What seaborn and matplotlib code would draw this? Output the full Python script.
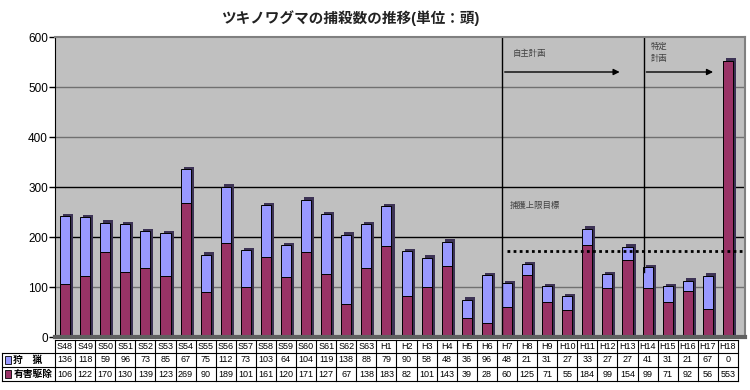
import matplotlib
matplotlib.use('Agg')
import matplotlib.pyplot as plt
import matplotlib.patheffects as pe
from matplotlib.patches import Rectangle
import seaborn as sns

# data
years = ['S48', 'S49', 'S50', 'S51', 'S52', 'S53', 'S54', 'S55', 'S56', 'S57', 'S58', 'S59',
         'S60', 'S61', 'S62', 'S63', 'H1', 'H2', 'H3', 'H4', 'H5', 'H6', 'H7', 'H8', 'H9',
         'H10', 'H11', 'H12', 'H13', 'H14', 'H15', 'H16', 'H17', 'H18']
hunting = [136, 118, 59, 96, 73, 85, 67, 75, 112, 73, 103, 64, 104, 119, 138, 88,
           79, 90, 58, 48, 36, 96, 48, 21, 31, 27, 33, 27, 27, 41, 31, 21, 67, 0]
pest = [106, 122, 170, 130, 139, 123, 269, 90, 189, 101, 161, 120, 171, 127, 67, 138,
        183, 82, 101, 143, 39, 28, 60, 125, 71, 55, 184, 99, 154, 99, 71, 92, 56, 553]
row_labels = ['狩　猟', '有害駆除']
cap_target = 172

blue = '#9999FF'
maroon = '#993366'

plt.rcParams['font.family'] = ['Liberation Sans', 'Noto Sans CJK JP', 'DejaVu Sans']

fig = plt.figure(figsize=(7.5, 3.9), dpi=100)
ax = fig.add_axes([55 / 750, 53 / 390, 690 / 750, 300 / 390])
ax.set_facecolor('#C0C0C0')

totals = [h + p for h, p in zip(hunting, pest)]
shadow = [pe.SimplePatchShadow(offset=(2.2, 1.5), shadow_rgbFace='#3d3355', alpha=1.0), pe.Normal()]
sns.barplot(x=years, y=totals, color=blue, width=0.5, edgecolor='black', linewidth=0.7,
            saturation=1, ax=ax)
sns.barplot(x=years, y=pest, color=maroon, width=0.5, edgecolor='black', linewidth=0.7,
            saturation=1, ax=ax)
for i, p in enumerate(ax.patches):
    if i < len(years):
        p.set_path_effects(shadow)

ax.set_xlim(-0.5, 33.85)
ax.set_ylim(0, 600)
ax.set_yticks(range(0, 601, 100))
ax.tick_params(axis='y', labelsize=8.5, length=4, width=1, direction='out', pad=1)
ax.set_xticks([])
ax.set_xlabel('')
ax.set_ylabel('')

# gridlines
for v, c in [(100, '#707070'), (200, 'black'), (300, 'black'), (400, '#707070'), (500, '#707070')]:
    ax.axhline(v, color=c, lw=1.0, zorder=0)
for s in ['top', 'right']:
    ax.spines[s].set_color('#808080')
    ax.spines[s].set_linewidth(1.5)
ax.spines['bottom'].set_color('#606060')
ax.spines['bottom'].set_linewidth(3)
ax.spines['left'].set_color('black')

# plan periods
ax.plot([21.75, 21.75], [0, 600], color='black', lw=1.0, zorder=1)
ax.plot([28.8, 28.8], [130, 600], color='black', lw=1.0, zorder=1)
ax.annotate('', xy=(27.75, 530), xytext=(21.75, 530),
            arrowprops=dict(arrowstyle='-|>', color='black', lw=1.0, mutation_scale=9))
ax.annotate('', xy=(32.4, 530), xytext=(28.8, 530),
            arrowprops=dict(arrowstyle='-|>', color='black', lw=1.0, mutation_scale=9))
ax.text(22.3, 566, '自主計画', fontsize=6, color='#404040', va='center')
ax.text(29.15, 568, '特定\n計画', fontsize=6, color='#404040', va='center', linespacing=1.7)
ax.text(22.15, 263, '捕獲上限目標', fontsize=6, color='#404040', va='center')
ax.plot([22.0, 33.9], [cap_target, cap_target], color='black', lw=2, ls=(0, (1, 1.2)), zorder=4)

fig.suptitle('ツキノワグマの捕殺数の推移(単位：頭)', x=0.467, y=0.975, fontsize=10.5,
             fontweight='bold', color='#222222')

# data table under the axes
tr = ax.get_xaxis_transform()
rows_y = [-0.01, -0.053, -0.1, -0.147]
left_x = -3.12
right_x = 33.5
line_kw = dict(color='black', lw=0.8, transform=tr, clip_on=False)
ax.plot([-0.5, right_x], [rows_y[0]] * 2, **line_kw)
for y in rows_y[1:]:
    ax.plot([left_x, right_x], [y] * 2, **line_kw)
ax.plot([left_x, left_x], [rows_y[1], rows_y[3]], **line_kw)
for i in range(len(years) + 1):
    ax.plot([i - 0.5, i - 0.5], [rows_y[0], rows_y[3]], **line_kw)

for i, yr in enumerate(years):
    ax.text(i, (rows_y[0] + rows_y[1]) / 2, yr, transform=tr, ha='center', va='center',
            fontsize=6.5, clip_on=False)
    ax.text(i, (rows_y[1] + rows_y[2]) / 2, str(hunting[i]), transform=tr, ha='center',
            va='center', fontsize=6.5, clip_on=False)
    ax.text(i, (rows_y[2] + rows_y[3]) / 2, str(pest[i]), transform=tr, ha='center',
            va='center', fontsize=6.5, clip_on=False)

for k, (lab, col) in enumerate(zip(row_labels, [blue, maroon])):
    yc = (rows_y[k + 1] + rows_y[k + 2]) / 2
    ax.add_patch(Rectangle((left_x + 0.12, yc - 0.012), 0.3, 0.024, transform=tr,
                           facecolor=col, edgecolor='black', lw=0.6, clip_on=False))
    ax.text(left_x + 0.55, yc, lab, transform=tr, ha='left', va='center', fontsize=7,
            fontweight='bold', clip_on=False)

fig.savefig('out.png', dpi=100)
